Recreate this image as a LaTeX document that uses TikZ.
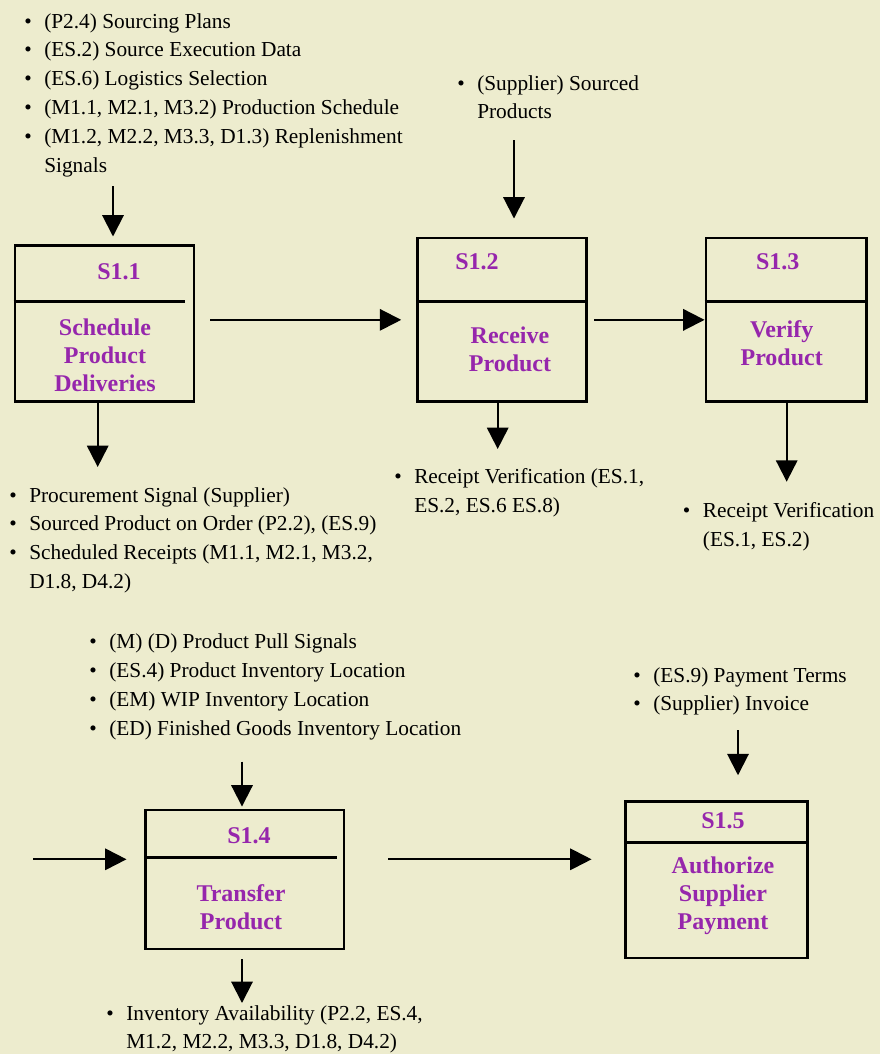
\documentclass[tikz,border=0pt]{standalone}
\usepackage{fontspec}
\setmainfont{Liberation Serif}
\usetikzlibrary{arrows.meta}
\definecolor{bg}{RGB}{237,236,206}
\definecolor{lbl}{RGB}{150,38,172}
\newlength\pxu \setlength\pxu{0.75pt}
\newcommand\bl{\makebox[20\pxu][l]{\textbullet}}
\newcommand\ind{\hspace*{20\pxu}}
\tikzset{
  box/.style={draw, line width=2.2pt, inner sep=0pt},
  div/.style={line width=1.8pt},
  arr/.style={line width=1.5pt, -{Triangle[length=16pt,width=16pt]}},
  idl/.style={text=lbl, font=\fontsize{18pt}{21pt}\selectfont\bfseries, inner sep=0pt},
  namel/.style={text=lbl, font=\fontsize{18pt}{21pt}\selectfont\bfseries, align=center, inner sep=0pt},
  lst/.style={font=\fontsize{16pt}{21.6pt}\selectfont, align=left, anchor=north west, inner sep=0pt}
}
\begin{document}
\begin{tikzpicture}[x=0.75pt,y=-0.75pt]
\fill[bg] (0,0) rectangle (880,1054);
\useasboundingbox (0,0) rectangle (880,1054);

% boxes
\node[box, minimum width=134.25pt, minimum height=117pt] (s11) at (104.5,323.7) {};
\node[box, minimum width=126.75pt, minimum height=122.8pt] (s12) at (502.2,319.85) {};
\node[box, minimum width=120.5pt, minimum height=122.8pt] (s13) at (786.35,319.85) {};
\node[box, minimum width=148.7pt, minimum height=104.25pt] (s14) at (244.85,879.5) {};
\node[box, minimum width=136.5pt, minimum height=117.2pt] (s15) at (716.7,879.85) {};

% dividers
\draw[div] (s11.north west) ++(0,57.3) -- ++(171,0);
\draw[div] (s12.north west) ++(0,65) -- ++(169,0);
\draw[div] (s13.north west) ++(0,65) -- ++(160.7,0);
\draw[div] (s14.north west) ++(0,49) -- ++(192.3,0);
\draw[div] (s15.north west) ++(0,42.3) -- ++(182,0);

% labels
\node[idl] (s11id) at (119,272) {S1.1};
\node[namel] (s11nm) at (105,355) {Schedule\\Product\\Deliveries};
\node[idl] (s12id) at (477,261.7) {S1.2};
\node[namel] (s12nm) at (510,349.5) {Receive\\Product};
\node[idl] (s13id) at (777.7,261.7) {S1.3};
\node[namel] (s13nm) at (781.7,343) {Verify\\Product};
\node[idl] (s14id) at (249,835.7) {S1.4};
\node[namel] (s14nm) at (241,907) {Transfer\\Product};
\node[idl] (s15id) at (723,820.7) {S1.5};
\node[namel] (s15nm) at (723,895.5) {Authorize\\Supplier\\Payment};

% lists
\node[lst] (in11) at (24,13) {\bl(P2.4) Sourcing Plans\\
\bl(ES.2) Source Execution Data\\
\bl(ES.6) Logistics Selection\\
\bl(M1.1, M2.1, M3.2) Production Schedule\\
\bl(M1.2, M2.2, M3.3, D1.3) Replenishment\\
\ind Signals};
\node[lst] (in12) at (457,75) {\bl(Supplier) Sourced\\ \ind Products};
\node[lst] (out11) at (9,487) {\bl Procurement Signal (Supplier)\\
\bl Sourced Product on Order (P2.2), (ES.9)\\
\bl Scheduled Receipts (M1.1, M2.1, M3.2,\\
\ind D1.8, D4.2)};
\node[lst] (out12) at (394,468.7) {\bl Receipt Verification (ES.1,\\ \ind ES.2, ES.6 ES.8)};
\node[lst] (out13) at (682.7,502) {\bl Receipt Verification\\ \ind (ES.1, ES.2)};
\node[lst] (in14) at (89,633.7) {\bl(M) (D) Product Pull Signals\\
\bl(ES.4) Product Inventory Location\\
\bl(EM) WIP Inventory Location\\
\bl(ED) Finished Goods Inventory Location};
\node[lst, font=\fontsize{16pt}{20.8pt}\selectfont] (out14) at (106,1005.5) {\bl Inventory Availability (P2.2, ES.4,\\ \ind M1.2, M2.2, M3.3, D1.8, D4.2)};
\node[lst] (in15) at (633,667) {\bl(ES.9) Payment Terms\\ \bl(Supplier) Invoice};

% arrow end coordinates
\coordinate (a11) at (113,186);
\coordinate (a12) at (514,140);
\coordinate (a14) at (242,761.7);
\coordinate (a15) at (738,730);
\coordinate (o11) at (97.7,467);
\coordinate (o12) at (497.7,449);
\coordinate (o13) at (786.7,481.7);
\coordinate (o14) at (242,1003);
\coordinate (i14) at (33,859.3);

% input arrows
\draw[arr, shorten >=5.8pt] (a11) -- (a11 |- s11.north);
\draw[arr, shorten >=13.5pt] (a12) -- (a12 |- s12.north);
\draw[arr, shorten >=1.5pt] (a14) -- (a14 |- s14.north);
\draw[arr, shorten >=18.75pt] (a15) -- (a15 |- s15.north);
% output arrows
\draw[arr] (s11.south -| o11) -- (o11);
\draw[arr] (s12.south -| o12) -- (o12);
\draw[arr] (s13.south -| o13) -- (o13);
\draw[arr, shorten <=6.75pt] (s14.south -| o14) -- (o14);
% flow arrows
\draw[arr, shorten <=11.25pt, shorten >=11.25pt] (s11.east |- s12.west) -- (s12.west);
\draw[arr, shorten <=4.5pt] (s12.east) -- (s13.west);
\draw[arr, shorten >=13.3pt] (i14) -- (s14.west |- i14);
\draw[arr, shorten <=32pt, shorten >=24.5pt] (s14.east |- i14) -- (s15.west |- i14);
\end{tikzpicture}
\end{document}
